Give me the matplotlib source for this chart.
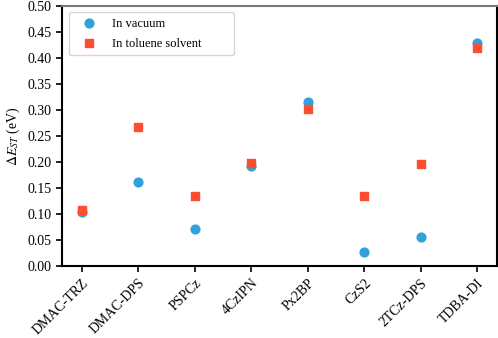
import matplotlib
matplotlib.use("Agg")
import matplotlib.pyplot as plt

categories = ["DMAC-TRZ", "DMAC-DPS", "PSPCz", "4CzIPN", "Px2BP", "CzS2", "2TCz-DPS", "TDBA-DI"]
vacuum = [0.103, 0.162, 0.071, 0.192, 0.316, 0.026, 0.056, 0.429]
toluene = [0.107, 0.267, 0.134, 0.198, 0.301, 0.134, 0.196, 0.420]
yticks = [0.00, 0.05, 0.10, 0.15, 0.20, 0.25, 0.30, 0.35, 0.40, 0.45, 0.50]

plt.rcParams['font.family'] = ['Liberation Serif', 'DejaVu Serif']
plt.rcParams['mathtext.fontset'] = 'stix'

fig = plt.figure(figsize=(4.98, 3.38), dpi=100)
ax = fig.add_axes([62/498, 72/338, 435/498, 260/338])
x = list(range(len(categories)))
ax.scatter(x, vacuum, color='#30a2da', marker='o', s=40, label='In vacuum', zorder=3)
ax.scatter(x, toluene, color='#fc4f30', marker='s', s=40, label='In toluene solvent', zorder=3)
ax.set_ylim(0, 0.5)
ax.set_yticks(yticks)
ax.set_yticklabels([f"{v:.2f}" for v in yticks])
ax.set_xticks(x)
ax.set_xticklabels(categories, rotation=45, ha='right', rotation_mode='anchor')
ax.set_ylabel(r'$\Delta E_{ST}$ (eV)', fontsize=10)
ax.tick_params(labelsize=10, width=1.2, length=4)
for s in ax.spines.values():
    s.set_linewidth(1.5)
ax.spines['top'].set_color('#777777')
ax.legend(loc='upper left', bbox_to_anchor=(0.016, 0.977, 0.379, 0), mode='expand',
          borderaxespad=0, fontsize=9, frameon=True, borderpad=0.45,
          labelspacing=0.65, handlelength=2.24, handletextpad=0.72)
fig.savefig('out.png', dpi=100)
